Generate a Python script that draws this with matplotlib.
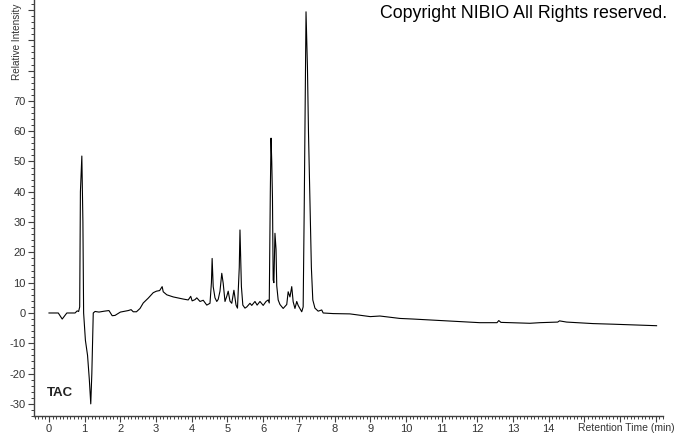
import numpy as np
import matplotlib.pyplot as plt
from matplotlib.ticker import MultipleLocator, FixedLocator

plt.rcParams['font.family'] = ['Liberation Sans', 'DejaVu Sans']

# chromatogram trace: retention time (min), relative intensity
time = [0.00, 0.26, 0.37, 0.50, 0.73, 0.79, 0.83, 0.86, 0.88, 0.92, 0.95, 0.97,
        1.02, 1.08, 1.13, 1.17, 1.20, 1.24, 1.29, 1.40, 1.55, 1.68, 1.77, 1.85,
        2.00, 2.22, 2.30, 2.36, 2.45, 2.55, 2.64, 2.78, 2.92, 3.01, 3.10, 3.17,
        3.20, 3.30, 3.48, 3.76, 3.90, 3.97, 4.01, 4.09, 4.14, 4.23, 4.32, 4.42,
        4.51, 4.55, 4.57, 4.60, 4.65, 4.70, 4.74, 4.79, 4.84, 4.88, 4.93, 4.98,
        5.02, 5.07, 5.12, 5.18, 5.24, 5.28, 5.33, 5.35, 5.39, 5.43, 5.49, 5.54,
        5.63, 5.68, 5.77, 5.83, 5.91, 6.00, 6.08, 6.14, 6.17, 6.20, 6.22, 6.24,
        6.26, 6.28, 6.30, 6.33, 6.36, 6.38, 6.42, 6.47, 6.56, 6.66, 6.70, 6.75,
        6.80, 6.84, 6.89, 6.94, 6.98, 7.08, 7.12, 7.15, 7.20, 7.24, 7.27, 7.31,
        7.35, 7.39, 7.45, 7.54, 7.64, 7.68, 7.96, 8.43, 9.00, 9.27, 9.83, 10.20,
        11.14, 12.07, 12.55, 12.60, 12.66, 13.47, 13.75, 14.25, 14.30, 14.50,
        15.24, 15.80, 16.74, 17.02]
intensity = [0.0, 0.0, -2.0, 0.0, 0.0, 0.7, 0.5, 2.0, 40.0, 51.8, 30.0, 0.0,
             -9.0, -14.0, -22.0, -30.0, -20.0, 0.0, 0.5, 0.3, 0.6, 0.8, -0.9, -0.8,
             0.3, 0.8, 1.1, 0.4, 0.4, 1.5, 3.3, 4.9, 6.7, 7.2, 7.4, 8.7,
             7.0, 6.0, 5.3, 4.6, 4.3, 5.5, 4.0, 4.4, 5.0, 3.8, 4.2, 2.6,
             3.2, 10.0, 18.0, 8.7, 5.0, 3.8, 4.5, 7.2, 13.1, 9.8, 3.8, 5.5,
             7.2, 3.9, 3.2, 7.5, 2.6, 1.6, 15.0, 27.4, 8.7, 2.6, 1.6, 2.0,
             3.2, 2.5, 3.8, 2.6, 3.8, 2.5, 3.8, 4.3, 3.3, 40.0, 57.7, 50.0,
             38.0, 10.9, 10.0, 26.3, 21.0, 9.0, 4.3, 2.8, 1.5, 2.8, 7.0, 5.3,
             8.7, 3.7, 1.5, 3.8, 2.5, 0.4, 2.0, 35.0, 99.4, 81.0, 59.0, 37.0,
             15.0, 4.3, 1.6, 0.6, 1.0, 0.0, -0.2, -0.3, -1.2, -1.0, -1.8, -2.0,
             -2.6, -3.2, -3.2, -2.5, -3.1, -3.4, -3.2, -3.0, -2.6, -3.0,
             -3.5, -3.7, -4.1, -4.2]

x_major = list(range(0, 18))
x_labels = [str(v) if v <= 14 else '' for v in x_major]
y_major = list(range(-30, 110, 10))
y_labels = [str(v) if v <= 70 else '' for v in y_major]

fig = plt.figure(figsize=(6.74, 4.34), dpi=100)
ax = fig.add_axes([34 / 674, 1 - 416 / 434, 629 / 674, 416 / 434])

ax.plot(time, intensity, color='black', lw=0.8)

ax.set_xlim(-0.42, 17.2)
ax.set_ylim(-34.0, 103.3)

for side in ['top', 'right']:
    ax.spines[side].set_visible(False)
for side in ['left', 'bottom']:
    ax.spines[side].set_color('#404040')
    ax.spines[side].set_linewidth(1.0)

ax.xaxis.set_major_locator(FixedLocator(x_major))
ax.set_xticklabels(x_labels)
ax.xaxis.set_minor_locator(MultipleLocator(0.1))
ax.yaxis.set_major_locator(FixedLocator(y_major))
ax.set_yticklabels(y_labels)
ax.yaxis.set_minor_locator(MultipleLocator(2))
ax.tick_params(which='major', length=4, width=0.8, color='#404040',
               labelsize=8, labelcolor='#333333', pad=2)
ax.tick_params(which='minor', length=2, width=0.7, color='#404040')

fig.text(578 / 674, 1 - 428 / 434, 'Retention Time (min)', fontsize=7.5,
         color='#333333', ha='left', va='center')
fig.text(17 / 674, 1 - 80 / 434, 'Relative Intensity', fontsize=7.2,
         color='#333333', rotation=90, ha='center', va='bottom')
fig.text(667 / 674, 1 - 14 / 434, 'Copyright NIBIO All Rights reserved.',
         fontsize=12.8, color='black', ha='right', va='center')
ax.text(47 / 674, 1 - 393 / 434, 'TAC', transform=fig.transFigure,
        fontsize=9.5, fontweight='bold', color='#222222', ha='left', va='center')

fig.savefig('out.png', dpi=100)
